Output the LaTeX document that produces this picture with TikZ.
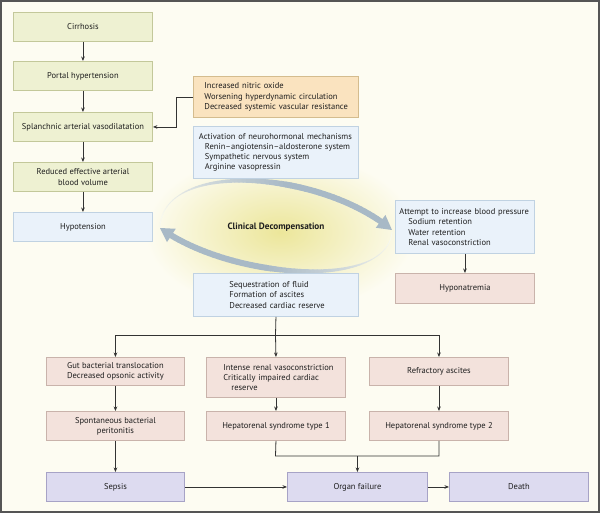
\documentclass[tikz,border=0pt]{standalone}
\usepackage{tikz}
\usepackage{fontspec}
\setmainfont{PT Sans}
\usetikzlibrary{arrows.meta,calc}
\definecolor{bgc}{HTML}{FDFCF2}
\definecolor{framec}{HTML}{555555}
\definecolor{gfill}{HTML}{EEF1D2}
\definecolor{gdraw}{HTML}{C3C89A}
\definecolor{bfill}{HTML}{EAF2FA}
\definecolor{bdraw}{HTML}{C0D2E2}
\definecolor{ofill}{HTML}{FAE3BF}
\definecolor{odraw}{HTML}{D4BC8E}
\definecolor{rfill}{HTML}{F3E2DC}
\definecolor{rdraw}{HTML}{C9B3AB}
\definecolor{pfill}{HTML}{DDDBF0}
\definecolor{pdraw}{HTML}{A7A3C6}
\definecolor{arrc}{HTML}{A8B9C6}
\definecolor{glowc}{HTML}{ECE69A}
\definecolor{linec}{HTML}{333333}
\definecolor{txtc}{HTML}{1E1E1E}
\pgfmathdeclarefunction{bz}{5}{\pgfmathparse{(1-#1)^3*#2+3*(1-#1)^2*#1*#3+3*(1-#1)*#1^2*#4+#1^3*#5}}
\newcommand\garc[8]{%
 \foreach \i in {0,...,59}{%
  \pgfmathsetmacro\ta{0.95*\i/60}%
  \pgfmathsetmacro\tb{0.95*(\i+1)/60}%
  \pgfmathsetmacro\xa{bz(\ta,#1,#3,#5,#7)}%
  \pgfmathsetmacro\ya{bz(\ta,#2,#4,#6,#8)}%
  \pgfmathsetmacro\xb{bz(\tb,#1,#3,#5,#7)}%
  \pgfmathsetmacro\yb{bz(\tb,#2,#4,#6,#8)}%
  \pgfmathsetmacro\sv{\i/60}%
  \pgfmathsetmacro\wv{0.8+5.2*min(1,max(0,(\sv-0.2)/0.45))}%
  \pgfmathtruncatemacro\pc{6+94*min(1,max(0,(\sv-0.05)/0.6))}%
  \draw[color=arrc!\pc!bgc, line width=\wv pt, line cap=round] (\xa,\ya) -- (\xb,\yb);
 }%
 \pgfmathsetmacro\xc{bz(0.95,#1,#3,#5,#7)}%
 \pgfmathsetmacro\yc{bz(0.95,#2,#4,#6,#8)}%
 \pgfmathsetmacro\ddx{#7-\xc}%
 \pgfmathsetmacro\ddy{#8-\yc}%
 \pgfmathsetmacro\dl{veclen(\ddx,\ddy)}%
 \pgfmathsetmacro\ux{\ddx/\dl}%
 \pgfmathsetmacro\uy{\ddy/\dl}%
 \fill[arrc] (#7,#8) -- (\xc-8*\uy,\yc+8*\ux) -- (\xc+8*\uy,\yc-8*\ux) -- cycle;
}
\begin{document}
\begin{tikzpicture}[x=1pt,y=-1pt, font=\fontsize{8.5}{10.2}\selectfont, text=txtc,
 bx/.style={draw, line width=0.9pt, rectangle, anchor=north west, inner xsep=0pt, inner ysep=0pt},
 gbx/.style={bx, fill=gfill, draw=gdraw, minimum width=139pt, minimum height=29pt, align=center},
 bbx/.style={bx, fill=bfill, draw=bdraw},
 obx/.style={bx, fill=ofill, draw=odraw},
 rbx/.style={bx, fill=rfill, draw=rdraw, align=center},
 pbx/.style={bx, fill=pfill, draw=pdraw, align=center, minimum height=29pt},
 conn/.style={draw=linec, line width=0.8pt},
 arr/.style={conn, -{Stealth[length=4.5pt,width=3.6pt]}}]
\useasboundingbox (0,0) rectangle (600,513);
\fill[bgc] (0,0) rectangle (600,513);
% glow
\shade[inner color=glowc, outer color=bgc] (280,232) ellipse [x radius=135pt, y radius=80pt];
% cycle arrows
\garc{160}{226}{165}{160}{320}{170}{392}{230}
\garc{392}{232}{387}{290}{232}{280}{160}{228}
\node[font=\fontsize{9.2}{11}\selectfont\bfseries] (clin) at (276,227) {Clinical Decompensation};
% left column
\node[gbx] (cirr) at (13,12) {Cirrhosis};
\node[gbx] (portal) at (13,61) {Portal hypertension};
\node[gbx] (splan) at (13,112) {Splanchnic arterial vasodilatation};
\node[gbx] (reduced) at (13,162) {Reduced effective arterial\\blood volume};
\node[bbx, minimum width=139pt, minimum height=29pt, align=center] (hypo) at (13,212) {Hypotension};
% middle
\node[obx, minimum width=165pt, minimum height=41pt, text width=143pt, align=left] (nitric) at (193,76)
 {\mbox{Increased nitric oxide}\\\mbox{Worsening hyperdynamic circulation}\\\mbox{Decreased systemic vascular resistance}};
\node[bbx, minimum width=165pt, minimum height=52pt, text width=154pt, align=left] (neuro) at (193,126)
 {\mbox{Activation of neurohormonal mechanisms}\\\mbox{\hspace*{6pt}Renin–angiotensin–aldosterone system}\\\mbox{\hspace*{6pt}Sympathetic nervous system}\\\mbox{\hspace*{6pt}Arginine vasopressin}};
\node[bbx, minimum width=139pt, minimum height=53pt, text width=131pt, align=left] (attempt) at (395,200)
 {\mbox{Attempt to increase blood pressure}\\\mbox{\hspace*{9pt}Sodium retention}\\\mbox{\hspace*{9pt}Water retention}\\\mbox{\hspace*{9pt}Renal vasoconstriction}};
\node[rbx, minimum width=139pt, minimum height=30pt] (hypona) at (395,273) {Hyponatremia};
\node[bbx, minimum width=165pt, minimum height=43pt, text width=93pt, align=left] (seq) at (193,273)
 {\mbox{Sequestration of fluid}\\\mbox{Formation of ascites}\\\mbox{Decreased cardiac reserve}};
% lower rows
\node[rbx, minimum width=138pt, minimum height=28pt] (gut) at (46,357) {Gut bacterial translocation\\Decreased opsonic activity};
\node[rbx, minimum width=139pt, minimum height=40pt, text width=105pt, align=left] (intense) at (206,357)
 {\mbox{Intense renal vasoconstriction}\\\mbox{Critically impaired cardiac}\\\mbox{\hspace*{8pt}reserve}};
\node[rbx, minimum width=139pt, minimum height=28pt] (refr) at (369,357) {Refractory ascites};
\node[rbx, minimum width=138pt, minimum height=29pt] (spont) at (46,411) {Spontaneous bacterial\\peritonitis};
\node[rbx, minimum width=139pt, minimum height=29pt] (hep1) at (206,411) {Hepatorenal syndrome type 1};
\node[rbx, minimum width=139pt, minimum height=29pt] (hep2) at (369,411) {Hepatorenal syndrome type 2};
\node[pbx, minimum width=138pt] (sepsis) at (46,472) {Sepsis};
\node[pbx, minimum width=140pt] (organ) at (287,472) {Organ failure};
\node[pbx, minimum width=139pt] (death) at (449,472) {Death};
% connectors
\draw[arr] (cirr) -- (portal);
\draw[arr] (portal) -- (splan);
\draw[arr] (splan) -- (reduced);
\draw[arr] (reduced) -- (hypo);
\draw[arr] (nitric.west) -- ++(-17,0) |- (splan.east);
\draw[arr] (attempt) -- (hypona);
\coordinate (bus) at (275.5,335);
\draw[conn] (seq.south) -- (bus);
\draw[arr] (bus) -| (gut.north);
\draw[arr] (bus) -| (refr.north);
\draw[arr] (bus) -- (intense.north);
\draw[arr] (gut) -- (spont);
\draw[arr] (spont) -- (sepsis);
\draw[arr] (intense) -- (hep1);
\draw[arr] (refr) -- (hep2);
\coordinate (j1) at (275.5,456);
\draw[conn] (hep1.south) -- (j1) -| (hep2.south);
\draw[arr] (organ.north |- j1) -- (organ.north);
\draw[arr] (sepsis) -- (organ);
\draw[arr] (organ) -- (death);
% frame
\draw[framec, line width=1.5pt] (1,1) rectangle (599,512);
\end{tikzpicture}
\end{document}
